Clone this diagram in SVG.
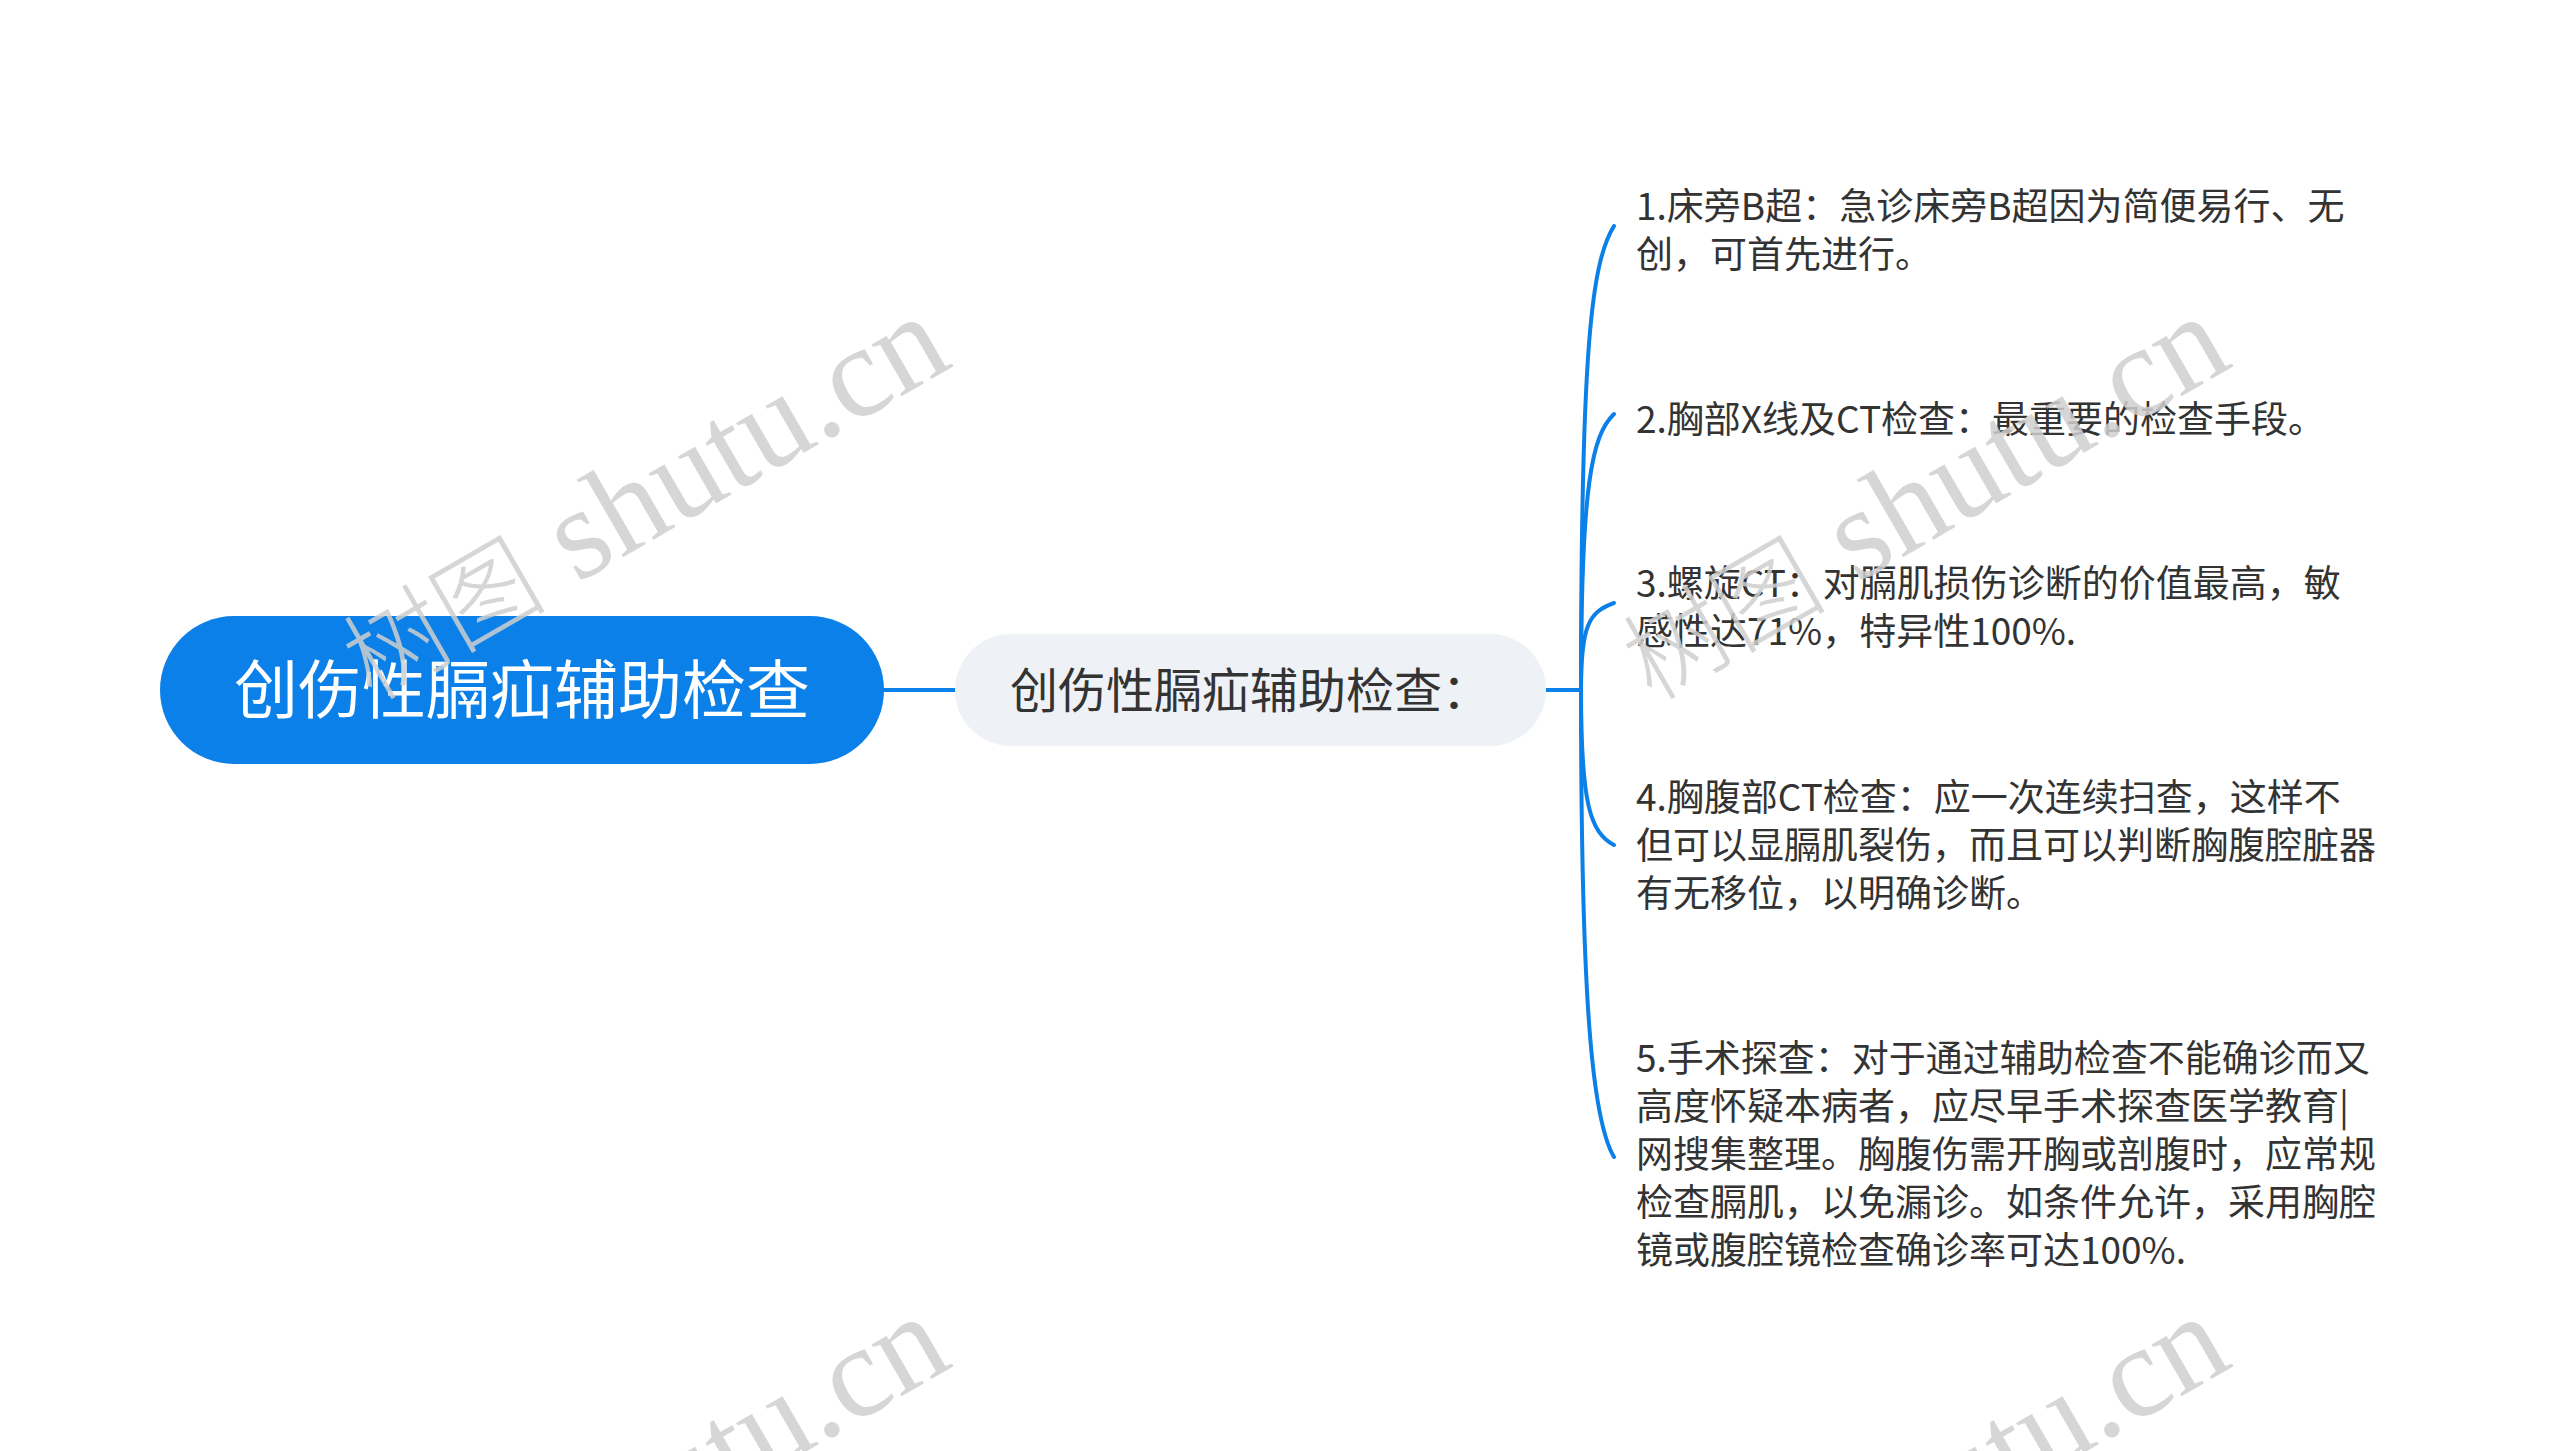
<svg xmlns="http://www.w3.org/2000/svg" width="2560" height="1451" viewBox="0 0 2560 1451">
<style>
.leaf{font-family:"Noto Sans CJK SC","Noto Sans",sans-serif;font-size:37px;fill:#333333;}
.conn{fill:none;stroke:#0B80E8;stroke-width:4;stroke-linecap:round;}
.wm{font-family:"Liberation Serif","Noto Sans CJK SC",serif;font-size:130px;fill:#cfcfcf;opacity:0.85;}
.wmc{font-family:"Noto Sans CJK SC",sans-serif;font-size:102px;font-weight:300;}
</style>
<rect width="2560" height="1451" fill="#ffffff"/>
<g id="connectors">
<path class="conn" d="M884 690 L955 690"/>
<path class="conn" d="M1546 690 L1581 690"/>
<path class="conn" d="M1581 690 C1581 341, 1592 262, 1614 226"/>
<path class="conn" d="M1581 690 C1581 484, 1592 435, 1614 414"/>
<path class="conn" d="M1581 690 C1581 625, 1589 612, 1614 603"/>
<path class="conn" d="M1581 690 C1581 804, 1590 832, 1614 845"/>
<path class="conn" d="M1581 690 C1581 1000, 1592 1120, 1614 1157"/>
</g>
<g id="root">
<rect x="160" y="616" width="724" height="148" rx="74" ry="74" fill="#0B80E8"/>
<text x="522" y="713" text-anchor="middle" font-family="Noto Sans CJK SC, Noto Sans, sans-serif" font-size="64" fill="#ffffff">创伤性膈疝辅助检查</text>
</g>
<g id="sub">
<rect x="955" y="634" width="591" height="112" rx="56" ry="56" fill="#EEF1F5"/>
<text x="1250" y="708" text-anchor="middle" font-family="Noto Sans CJK SC, Noto Sans, sans-serif" font-size="48" fill="#333333">创伤性膈疝辅助检查：</text>
</g>
<g id="leaf1">
<text class="leaf" x="1636" y="220">1.床旁B超：急诊床旁B超因为简便易行、无</text>
<text class="leaf" x="1636" y="268">创，可首先进行。</text>
</g>
<g id="leaf2">
<text class="leaf" x="1636" y="433">2.胸部X线及CT检查：最重要的检查手段。</text>
</g>
<g id="leaf3">
<text class="leaf" x="1636" y="597">3.螺旋CT：对膈肌损伤诊断的价值最高，敏</text>
<text class="leaf" x="1636" y="645">感性达71%，特异性100%.</text>
</g>
<g id="leaf4">
<text class="leaf" x="1636" y="811">4.胸腹部CT检查：应一次连续扫查，这样不</text>
<text class="leaf" x="1636" y="859">但可以显膈肌裂伤，而且可以判断胸腹腔脏器</text>
<text class="leaf" x="1636" y="907">有无移位，以明确诊断。</text>
</g>
<g id="leaf5">
<text class="leaf" x="1636" y="1072">5.手术探查：对于通过辅助检查不能确诊而又</text>
<text class="leaf" x="1636" y="1120">高度怀疑本病者，应尽早手术探查医学教育|</text>
<text class="leaf" x="1636" y="1168">网搜集整理。胸腹伤需开胸或剖腹时，应常规</text>
<text class="leaf" x="1636" y="1216">检查膈肌，以免漏诊。如条件允许，采用胸腔</text>
<text class="leaf" x="1636" y="1264">镜或腹腔镜检查确诊率可达100%.</text>
</g>
<g id="watermarks">
<text class="wm" transform="translate(372,702) rotate(-30)"><tspan class="wmc">树图</tspan> shutu.cn</text>
<text class="wm" transform="translate(1652,702) rotate(-30)"><tspan class="wmc">树图</tspan> shutu.cn</text>
<text class="wm" transform="translate(372,1702) rotate(-30)"><tspan class="wmc">树图</tspan> shutu.cn</text>
<text class="wm" transform="translate(1652,1702) rotate(-30)"><tspan class="wmc">树图</tspan> shutu.cn</text>
</g>
</svg>
